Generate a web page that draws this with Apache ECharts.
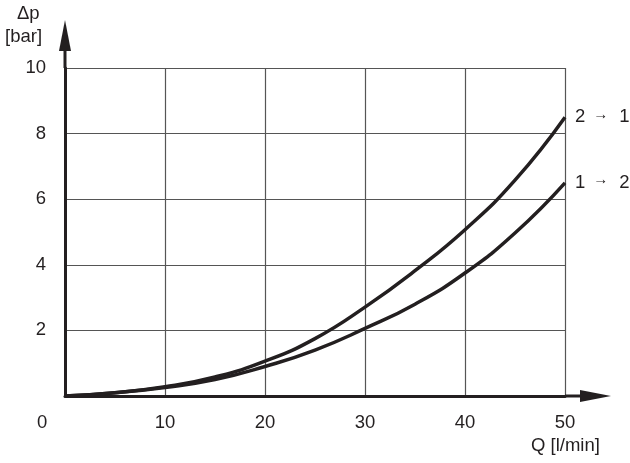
<!DOCTYPE html>
<html><head><meta charset="utf-8">
<script src="https://cdn.jsdelivr.net/npm/echarts@6/dist/echarts.min.js"></script>
<style>html,body{margin:0;padding:0;background:#fff}#c{width:630px;height:463px}</style>
</head><body><div id="c"></div>
<script>
const flow = [0, 5, 10, 15, 20, 25, 30, 35, 40, 45, 50];
const dp21 = [0, 0.1, 0.28, 0.58, 1.06, 1.75, 2.71, 3.82, 5.07, 6.58, 8.5];
const dp12 = [0, 0.1, 0.26, 0.5, 0.9, 1.4, 2.06, 2.8, 3.75, 4.97, 6.5];
const seriesNames = ['2 → 1', '1 → 2'];
const xTicks = [10, 20, 30, 40, 50];
const yTicks = [2, 4, 6, 8, 10];

const FONT = 'Liberation Sans, Arial, sans-serif';
const FS = 18.5;
const INK = '#231f20';
const chart = echarts.init(document.getElementById('c'));

function mk(name, vals) {
  return {
    type: 'line', name: name, smooth: 0.5, symbol: 'none',
    data: flow.map((x, i) => [x, vals[i]]),
    lineStyle: { color: INK, width: 3.5 },
    endLabel: {
      show: true, distance: 10,
      formatter: p => { const s = p.seriesName.split(' → '); return s[0] + '{a|→}' + s[1]; },
      color: INK, fontSize: FS, fontFamily: FONT,
      rich: { a: { fontSize: 15, color: INK, fontFamily: FONT, padding: [0, 11, 5, 8] } }
    },
    z: 5
  };
}

chart.setOption({
  animation: false,
  grid: { left: 65, right: 65, top: 68, bottom: 67 },
  xAxis: {
    type: 'value', min: 0, max: 50, interval: 10,
    axisLine: { show: true, lineStyle: { color: INK, width: 3 } },
    axisTick: { show: false },
    splitLine: { show: true, lineStyle: { color: '#555', width: 1.2 } },
    axisLabel: {
      margin: 17, fontSize: FS, color: INK, fontFamily: FONT,
      formatter: v => xTicks.includes(v) ? String(v) : ''
    }
  },
  yAxis: {
    type: 'value', min: 0, max: 10, interval: 2,
    axisLine: { show: true, lineStyle: { color: INK, width: 3 } },
    axisTick: { show: false },
    splitLine: { show: true, lineStyle: { color: '#555', width: 1.2 } },
    axisLabel: {
      margin: 19, fontSize: FS, color: INK, fontFamily: FONT,
      formatter: v => yTicks.includes(v) ? String(v) : ''
    }
  },
  series: [mk(seriesNames[0], dp21), mk(seriesNames[1], dp12)]
});

// axis extensions with arrow heads, placed from the axis scale
const org = chart.convertToPixel({ gridIndex: 0 }, [0, 0]);
const corner = chart.convertToPixel({ gridIndex: 0 }, [50, 10]);
const yTip = 20, xTip = 611;
const F = FS + 'px ' + FONT;
chart.setOption({
  graphic: [
    { type: 'line', shape: { x1: org[0], y1: corner[1], x2: org[0], y2: yTip + 20 }, style: { stroke: INK, lineWidth: 3 } },
    { type: 'polygon', shape: { points: [[org[0], yTip], [org[0] - 6, yTip + 31], [org[0] + 6, yTip + 31]] }, style: { fill: INK } },
    { type: 'line', shape: { x1: corner[0], y1: org[1], x2: xTip - 20, y2: org[1] }, style: { stroke: INK, lineWidth: 3 } },
    { type: 'polygon', shape: { points: [[xTip, org[1]], [xTip - 31, org[1] - 6], [xTip - 31, org[1] + 6]] }, style: { fill: INK } },
    { type: 'text', left: 17, top: 4, style: { text: 'Δp', fill: INK, font: F } },
    { type: 'text', left: 5, top: 27, style: { text: '[bar]', fill: INK, font: F } },
    { type: 'text', left: 37, top: org[1] + 17, style: { text: '0', fill: INK, font: F } },
    { type: 'text', left: 531, top: 436, style: { text: 'Q [l/min]', fill: INK, font: F } }
  ]
});
</script></body></html>
